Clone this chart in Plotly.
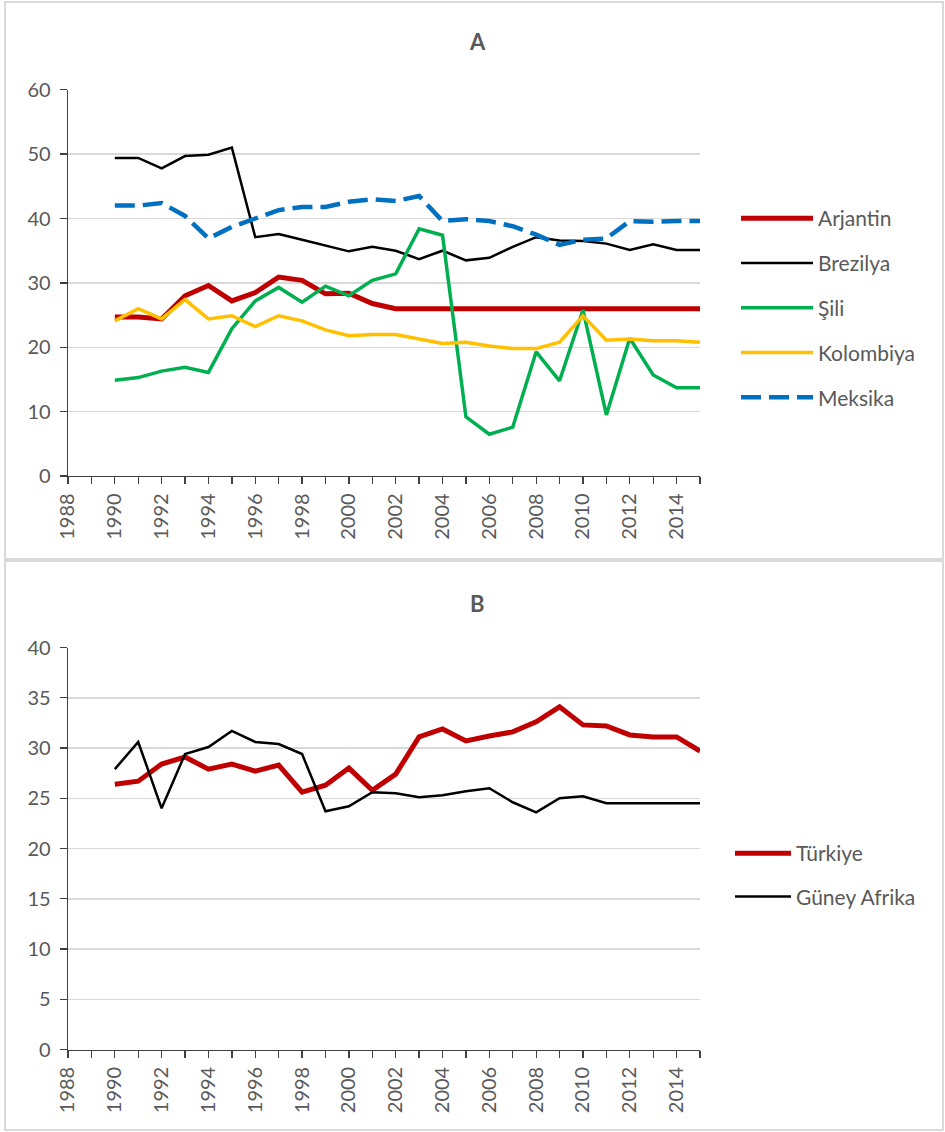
import plotly.graph_objects as go

years = list(range(1990, 2016))

arjantin = [24.7, 24.7, 24.4, 28.0, 29.6, 27.2, 28.5, 30.9, 30.4, 28.3, 28.4, 26.8,
            26.0, 26.0, 26.0, 26.0, 26.0, 26.0, 26.0, 26.0, 26.0, 26.0, 26.0, 26.0, 26.0, 26.0]
brezilya = [49.4, 49.4, 47.8, 49.7, 49.9, 51.0, 37.1, 37.6, 36.7, 35.8, 34.9, 35.6,
            35.0, 33.7, 35.0, 33.5, 33.9, 35.6, 37.1, 36.6, 36.5, 36.1, 35.1, 36.0, 35.1, 35.1]
sili = [14.9, 15.3, 16.3, 16.9, 16.1, 22.9, 27.2, 29.3, 27.0, 29.5, 28.0, 30.4,
        31.4, 38.4, 37.4, 9.2, 6.5, 7.6, 19.3, 14.8, 25.8, 9.5, 21.4, 15.7, 13.7, 13.7]
kolombiya = [24.1, 26.0, 24.4, 27.4, 24.4, 24.9, 23.2, 24.9, 24.1, 22.7, 21.8, 22.0,
             22.0, 21.3, 20.6, 20.8, 20.2, 19.8, 19.8, 20.8, 24.9, 21.1, 21.3, 21.0, 21.0, 20.8]
meksika = [42.0, 42.0, 42.4, 40.4, 36.9, 38.7, 40.0, 41.3, 41.8, 41.8, 42.6, 43.0,
           42.7, 43.5, 39.6, 39.9, 39.6, 38.8, 37.5, 35.9, 36.7, 36.9, 39.6, 39.5, 39.6, 39.6]

turkiye = [26.4, 26.7, 28.4, 29.1, 27.9, 28.4, 27.7, 28.3, 25.6, 26.3, 28.0, 25.8,
           27.4, 31.1, 31.9, 30.7, 31.2, 31.6, 32.6, 34.1, 32.3, 32.2, 31.3, 31.1, 31.1, 29.7]
guney_afrika = [27.9, 30.6, 24.0, 29.4, 30.1, 31.7, 30.6, 30.4, 29.4, 23.7, 24.2, 25.6,
                25.5, 25.1, 25.3, 25.7, 26.0, 24.6, 23.6, 25.0, 25.2, 24.5, 24.5, 24.5, 24.5, 24.5]

tick_years = list(range(1988, 2015, 2))
panel_titles = ["A", "B"]

FONT = "Lato, 'Open Sans', sans-serif"
GREY = "#595959"
AX = "#404040"
W, H = 945, 1132

fig = go.Figure()

series_a = [
    ("Arjantin", arjantin, "#C00000", 5, "solid"),
    ("Brezilya", brezilya, "#000000", 2.5, "solid"),
    ("Şili", sili, "#00B050", 3.5, "solid"),
    ("Kolombiya", kolombiya, "#FFC000", 3.5, "solid"),
    ("Meksika", meksika, "#0070C0", 4.5, "20px,8px"),
]
for name, vals, col, lw, dash in series_a:
    fig.add_trace(go.Scatter(x=years, y=vals, name=name, mode="lines",
                             line=dict(color=col, width=lw, dash=dash),
                             xaxis="x", yaxis="y", legend="legend", legendgroup=name))

series_b = [
    ("Türkiye", turkiye, "#C00000", 5, "solid"),
    ("Güney Afrika", guney_afrika, "#000000", 2.5, "solid"),
]
for name, vals, col, lw, dash in series_b:
    fig.add_trace(go.Scatter(x=years, y=vals, name=name, mode="lines",
                             line=dict(color=col, width=lw, dash=dash),
                             xaxis="x2", yaxis="y2", legend="legend2", legendgroup=name))

xdom = [68 / W, 700 / W]
ydomA = [1 - 476.1 / H, 1 - 89.7 / H]
ydomB = [1 - 1049.5 / H, 1 - 647.5 / H]

xcommon = dict(range=[1988, 2015], tickmode="array", tickvals=tick_years,
               ticktext=[str(t) for t in tick_years], tickangle=-90,
               showline=True, linecolor=AX, linewidth=1.3, ticks="outside", ticklen=7,
               tickcolor=AX, tickwidth=1.3, showgrid=False, zeroline=False,
               tickfont=dict(family=FONT, size=20, color=GREY), ticklabelstandoff=1,
               minor=dict(dtick=1, tick0=1988, ticks="outside", ticklen=7,
                          tickcolor=AX, tickwidth=1.3, showgrid=False),
               domain=xdom, fixedrange=True, automargin=False)
ycommon = dict(showline=True, linecolor=AX, linewidth=1.3, ticks="outside", ticklen=7,
               tickcolor=AX, tickwidth=1.3, showgrid=True, gridcolor="#D9D9D9",
               gridwidth=1.5, zeroline=False, automargin=False, ticklabelstandoff=5,
               tickfont=dict(family=FONT, size=20, color=GREY), fixedrange=True)

fig.update_layout(
    width=W, height=H, autosize=False,
    margin=dict(l=0, r=0, t=0, b=0, pad=0, autoexpand=False),
    paper_bgcolor="white", plot_bgcolor="white",
    font=dict(family=FONT, color=GREY),
    xaxis=dict(**xcommon, anchor="y"),
    yaxis=dict(**ycommon, range=[0, 60], dtick=10, domain=ydomA, anchor="x"),
    xaxis2=dict(**xcommon, anchor="y2"),
    yaxis2=dict(**ycommon, range=[0, 40], dtick=5, domain=ydomB, anchor="x2"),
    legend=dict(x=736 / W, y=1 - 308 / H, xanchor="left", yanchor="middle",
                font=dict(family=FONT, size=21, color=GREY), itemwidth=72,
                tracegroupgap=14.5, bgcolor="rgba(0,0,0,0)"),
    legend2=dict(x=730 / W, y=1 - 875 / H, xanchor="left", yanchor="middle",
                 font=dict(family=FONT, size=21, color=GREY), itemwidth=56,
                 tracegroupgap=13, bgcolor="rgba(0,0,0,0)"),
    showlegend=True,
    annotations=[
        dict(text=f"<b>{panel_titles[0]}</b>", x=477 / W, y=1 - 41 / H, xref="paper", yref="paper",
             yanchor="middle", showarrow=False, font=dict(family=FONT, size=22, color=GREY)),
        dict(text=f"<b>{panel_titles[1]}</b>", x=477 / W, y=1 - 603 / H, xref="paper", yref="paper",
             yanchor="middle", showarrow=False, font=dict(family=FONT, size=22, color=GREY)),
    ],
    shapes=[
        dict(type="rect", xref="paper", yref="paper", x0=5 / W, x1=943 / W,
             y0=1 - 559 / H, y1=1 - 2 / H, line=dict(color="#D9D9D9", width=2)),
        dict(type="rect", xref="paper", yref="paper", x0=5 / W, x1=943 / W,
             y0=1 - 1130 / H, y1=1 - 561 / H, line=dict(color="#D9D9D9", width=2)),
    ],
)

fig.write_html(
    "out.html",
    config={"displayModeBar": False, "staticPlot": True},
    post_script=(
        "document.documentElement.style.margin='0';"
        "document.documentElement.style.overflow='hidden';"
        "document.body.style.margin='0';document.body.style.padding='0';"
        "document.body.style.overflow='hidden';"
        "var d=document.getElementById('{plot_id}');"
        "d.style.position='fixed';d.style.left='0px';d.style.top='0px';"
    ),
)
